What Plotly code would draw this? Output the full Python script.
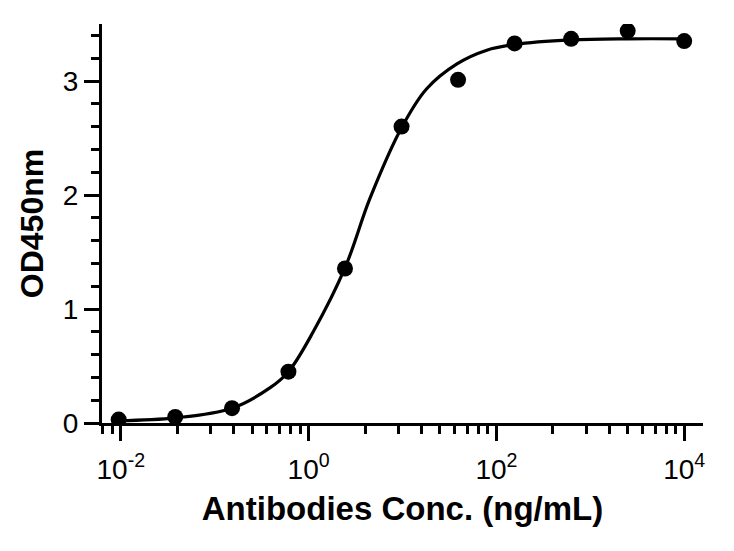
import plotly.graph_objects as go

# Measured data points (4-fold dilution series)
conc = [0.0095, 0.038, 0.153, 0.61, 2.44, 9.77, 39.06, 156.25, 625, 2500, 10000]
od450 = [0.03, 0.053, 0.13, 0.45, 1.355, 2.60, 3.01, 3.33, 3.37, 3.44, 3.35]

# Fitted curve
curve_x = [0.0095, 0.038, 0.153, 0.39, 0.61, 1.12, 2.44, 4.5, 9.77, 18, 38, 79, 156.25, 625, 2500, 10000]
curve_y = [0.02, 0.045, 0.13, 0.31, 0.45, 0.80, 1.36, 1.97, 2.59, 2.93, 3.15, 3.27, 3.32, 3.36, 3.37, 3.37]

# Axis ticks
x_tickvals = [0.01, 1, 100, 10000]
x_ticktext = ["10<sup>-2</sup>", "10<sup>0</sup>", "10<sup>2</sup>", "10<sup>4</sup>"]
x_minor = [0.0064, 0.0081, 0.04, 0.09, 0.16, 0.25, 0.36, 0.49, 0.64, 0.81,
           4, 9, 16, 25, 36, 49, 64, 81, 400, 900, 1600, 2500, 3600, 4900, 6400, 8100]
y_tickvals = [0, 1, 2, 3]

font_family = "Liberation Sans, Arial, Helvetica, sans-serif"

fig = go.Figure()
fig.add_trace(go.Scatter(
    x=curve_x, y=curve_y, mode="lines",
    line=dict(color="black", width=3.2, shape="spline", smoothing=1.0),
    hoverinfo="skip", showlegend=False,
))
fig.add_trace(go.Scatter(
    x=conc, y=od450, mode="markers",
    marker=dict(color="black", size=16),
    showlegend=False,
))

fig.update_layout(
    width=726, height=543,
    paper_bgcolor="white", plot_bgcolor="white",
    margin=dict(l=94, r=31, t=16, b=128),
    font=dict(family=font_family, color="black"),
    showlegend=False,
)
fig.update_xaxes(
    type="log", range=[-2.2, 4.2],
    showline=True, linecolor="black", linewidth=3,
    showgrid=False, zeroline=False,
    ticks="outside", ticklen=15, tickwidth=3, tickcolor="black",
    tickmode="array", tickvals=x_tickvals, ticktext=x_ticktext,
    ticklabelstandoff=4,
    tickfont=dict(size=28, family=font_family, color="black"),
    minor=dict(ticks="outside", ticklen=8, tickwidth=3, tickcolor="black",
               tickmode="array", tickvals=x_minor, showgrid=False),
    title=dict(text="Antibodies Conc. (ng/mL)",
               font=dict(size=33, family=font_family, color="black", weight="bold"),
               standoff=14),
)
fig.update_yaxes(
    range=[0, 3.5],
    showline=True, linecolor="black", linewidth=3,
    showgrid=False, zeroline=False,
    ticks="outside", ticklen=15, tickwidth=3, tickcolor="black",
    tickmode="array", tickvals=y_tickvals,
    ticklabelstandoff=0,
    tickfont=dict(size=28, family=font_family, color="black"),
    minor=dict(ticks="outside", ticklen=8, tickwidth=3, tickcolor="black",
               dtick=0.2, tick0=0, showgrid=False),
    title=dict(text="OD450nm",
               font=dict(size=32, family=font_family, color="black", weight="bold"),
               standoff=10),
)

fig.write_html("out.html")
